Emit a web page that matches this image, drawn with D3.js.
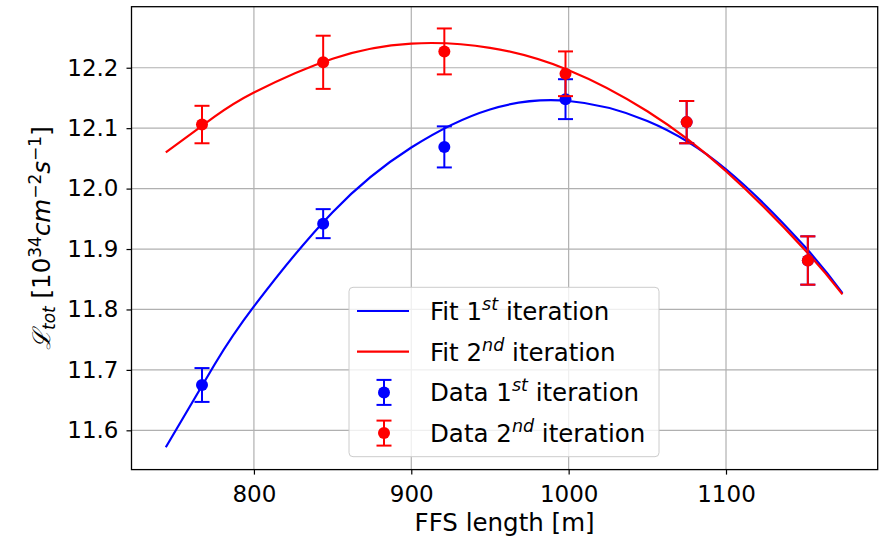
<!DOCTYPE html>
<html>
<head>
<meta charset="utf-8">
<script src="https://cdn.jsdelivr.net/npm/d3@7"></script>
<style>
  html, body { margin: 0; padding: 0; background: #fff; }
  svg { display: block; font-family: "DejaVu Sans", sans-serif; }
</style>
</head>
<body>
<svg id="chart" width="892" height="537"></svg>
<script>
// ---- data ----
const xData = [767, 844, 921, 998, 1075, 1152];
const data1 = [11.675, 11.942, 12.069, 12.148, 12.110, 11.881];
const err1  = [0.028, 0.024, 0.034, 0.033, 0.035, 0.040];
const data2 = [12.106, 12.209, 12.227, 12.190, 12.110, 11.881];
const err2  = [0.031, 0.044, 0.038, 0.037, 0.035, 0.040];

const fitX  = [744, 775, 800, 850, 900, 950, 1000, 1050, 1100, 1150, 1174];
const fit1Y = [11.572, 11.709, 11.805, 11.961, 12.068, 12.131, 12.145, 12.112, 12.032, 11.904, 11.827];
const fit2Y = [12.060, 12.119, 12.159, 12.215, 12.240, 12.233, 12.196, 12.128, 12.029, 11.899, 11.825];

const xTicks = [800, 900, 1000, 1100];
const yTicks = [11.6, 11.7, 11.8, 11.9, 12.0, 12.1, 12.2];

const legendItems = [
  {type: "line", color: "#0000ff", pre: "Fit 1", sup: "st"},
  {type: "line", color: "#ff0000", pre: "Fit 2", sup: "nd"},
  {type: "err",  color: "#0000ff", pre: "Data 1", sup: "st"},
  {type: "err",  color: "#ff0000", pre: "Data 2", sup: "nd"}
];

// ---- layout ----
const L = 131.5, R = 877.7, T = 6.7, B = 469.6;
const svg = d3.select("#chart");
const x = d3.scaleLinear().domain([722.2, 1196.4]).range([L, R]);
const y = d3.scaleLinear().domain([11.535, 12.301]).range([B, T]);

// grid
const grid = svg.append("g");
grid.selectAll(".gx").data(xTicks).enter().append("line")
  .attr("x1", d => x(d)).attr("x2", d => x(d)).attr("y1", T).attr("y2", B)
  .attr("stroke", "#b0b0b0").attr("stroke-width", 1.2);
grid.selectAll(".gy").data(yTicks).enter().append("line")
  .attr("x1", L).attr("x2", R).attr("y1", d => y(d)).attr("y2", d => y(d))
  .attr("stroke", "#b0b0b0").attr("stroke-width", 1.2);

// axes
const xAxis = svg.append("g").attr("transform", `translate(0,${B})`)
  .call(d3.axisBottom(x).tickValues(xTicks).tickFormat(d3.format("d")).tickSize(5).tickPadding(6));
const yAxis = svg.append("g").attr("transform", `translate(${L},0)`)
  .call(d3.axisLeft(y).tickValues(yTicks).tickFormat(d3.format(".1f")).tickSize(5).tickPadding(8));
[xAxis, yAxis].forEach(a => {
  a.select(".domain").remove();
  a.selectAll(".tick line").attr("stroke", "#000").attr("stroke-width", 1.2);
  a.selectAll(".tick text").attr("fill", "#000").style("font-size", "23px").style("font-family", "DejaVu Sans");
});
xAxis.selectAll(".tick text").attr("dy", "0.95em");

// fit lines
const line = d3.line().x(d => x(d[0])).y(d => y(d[1])).curve(d3.curveNatural);
svg.append("path").datum(fitX.map((v, i) => [v, fit1Y[i]]))
  .attr("d", line).attr("fill", "none").attr("stroke", "#0000ff").attr("stroke-width", 2.2);
svg.append("path").datum(fitX.map((v, i) => [v, fit2Y[i]]))
  .attr("d", line).attr("fill", "none").attr("stroke", "#ff0000").attr("stroke-width", 2.2);

// error bars
function errorbars(vals, errs, color) {
  const g = svg.append("g");
  const pts = xData.map((v, i) => ({x: v, y: vals[i], e: errs[i]}));
  const cap = 7.5;
  g.selectAll(".stem").data(pts).enter().append("line")
    .attr("x1", d => x(d.x)).attr("x2", d => x(d.x))
    .attr("y1", d => y(d.y - d.e)).attr("y2", d => y(d.y + d.e))
    .attr("stroke", color).attr("stroke-width", 2);
  ["top", "bot"].forEach(k => {
    g.selectAll(".cap" + k).data(pts).enter().append("line")
      .attr("x1", d => x(d.x) - cap).attr("x2", d => x(d.x) + cap)
      .attr("y1", d => y(k === "top" ? d.y + d.e : d.y - d.e))
      .attr("y2", d => y(k === "top" ? d.y + d.e : d.y - d.e))
      .attr("stroke", color).attr("stroke-width", 2);
  });
  g.selectAll("circle").data(pts).enter().append("circle")
    .attr("cx", d => x(d.x)).attr("cy", d => y(d.y)).attr("r", 6).attr("fill", color);
}
errorbars(data1, err1, "#0000ff");
errorbars(data2, err2, "#ff0000");

// spines
svg.append("rect").attr("x", L).attr("y", T).attr("width", R - L).attr("height", B - T)
  .attr("fill", "none").attr("stroke", "#000").attr("stroke-width", 1.3);

// x label
svg.append("text").attr("x", (L + R) / 2).attr("y", 531).attr("text-anchor", "middle")
  .style("font-size", "24.5px").text("FFS length [m]");

// y label
const yl = svg.append("text").attr("transform", `translate(50,${(T + B) / 2}) rotate(-90)`)
  .attr("text-anchor", "middle").style("font-size", "24.5px");
yl.append("tspan").style("font-style", "italic").style("font-family", "DejaVu Serif").text("ℒ");
yl.append("tspan").attr("dy", 5).style("font-size", "17px").style("font-style", "italic").text("tot");
yl.append("tspan").attr("dy", -5).text(" [10");
yl.append("tspan").attr("dy", -9).style("font-size", "17px").text("34");
yl.append("tspan").attr("dy", 9).style("font-style", "italic").text("cm");
yl.append("tspan").attr("dy", -9).style("font-size", "17px").text("−2");
yl.append("tspan").attr("dy", 9).style("font-style", "italic").text("s");
yl.append("tspan").attr("dy", -9).style("font-size", "17px").text("−1");
yl.append("tspan").attr("dy", 9).text("]");

// legend
const lg = svg.append("g");
lg.append("rect").attr("x", 349).attr("y", 287.3).attr("width", 310).attr("height", 169.4)
  .attr("rx", 4).attr("fill", "#fff").attr("fill-opacity", 0.8)
  .attr("stroke", "#cccccc").attr("stroke-width", 1);
legendItems.forEach((it, i) => {
  const cy = 311 + i * 40.7;
  if (it.type === "line") {
    lg.append("line").attr("x1", 357).attr("x2", 409).attr("y1", cy).attr("y2", cy)
      .attr("stroke", it.color).attr("stroke-width", 2.2);
  } else {
    lg.append("line").attr("x1", 384).attr("x2", 384).attr("y1", cy - 12.5).attr("y2", cy + 12.5)
      .attr("stroke", it.color).attr("stroke-width", 2);
    [-12.5, 12.5].forEach(o => lg.append("line").attr("x1", 376.5).attr("x2", 391.5)
      .attr("y1", cy + o).attr("y2", cy + o).attr("stroke", it.color).attr("stroke-width", 2));
    lg.append("circle").attr("cx", 384).attr("cy", cy).attr("r", 6).attr("fill", it.color);
  }
  const t = lg.append("text").attr("x", 430).attr("y", cy + 9).style("font-size", "24.5px");
  t.append("tspan").text(it.pre);
  t.append("tspan").attr("dy", -10).style("font-size", "17.5px").style("font-style", "italic").text(it.sup);
  t.append("tspan").attr("dy", 10).text(" iteration");
});
</script>
</body>
</html>
